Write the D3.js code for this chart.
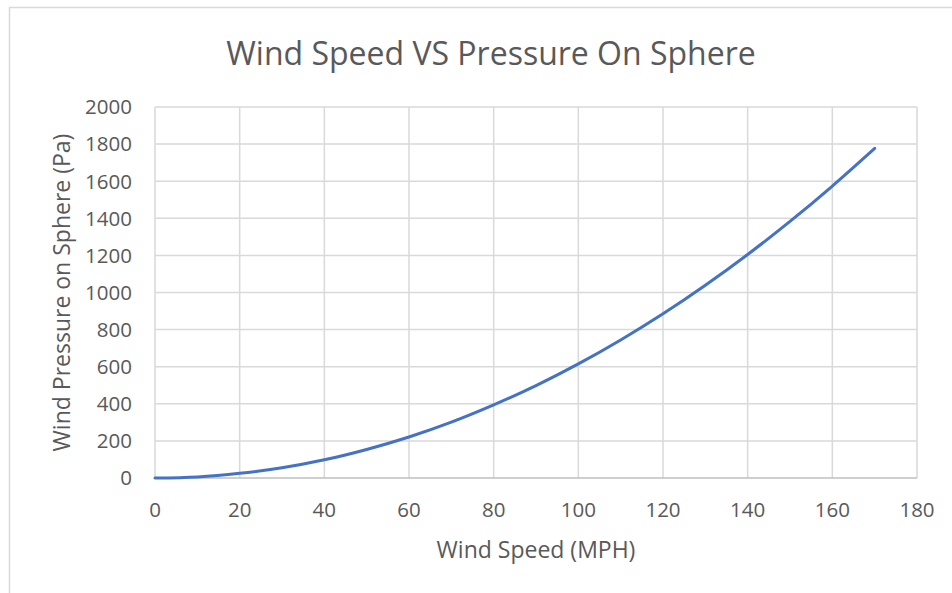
<!DOCTYPE html>
<html>
<head>
<meta charset="utf-8">
<script src="https://cdn.jsdelivr.net/npm/d3@7"></script>
<style>
  body { margin: 0; background: #fff; }
  text { font-family: "Open Sans", sans-serif; }
</style>
</head>
<body>
<svg id="chart" width="952" height="593"></svg>
<script>
// values (Pa at each wind speed in mph)
var speeds = [0, 10, 20, 30, 40, 50, 60, 70, 80, 90, 100, 110, 120, 130, 140, 150, 160, 170]
var pressures = [0, 6, 25, 55, 98, 154, 221, 301, 394, 498, 615, 744, 885, 1039, 1205, 1383, 1574, 1777]
var xTicks = [0, 20, 40, 60, 80, 100, 120, 140, 160, 180]
var yTicks = [0, 200, 400, 600, 800, 1000, 1200, 1400, 1600, 1800, 2000]

var svg = d3.select("#chart")

// chart frame
svg.append("rect")
  .attr("x", 9.5).attr("y", 7.5)
  .attr("width", 960).attr("height", 600)
  .attr("fill", "#fff")
  .attr("stroke", "#d9d9d9")
  .attr("stroke-width", 1.5)

// plot area edges
var plotL = 155, plotR = 917, plotT = 107, plotB = 478

var x = d3.scaleLinear().domain([0, 180]).range([plotL, plotR])
var y = d3.scaleLinear().domain([0, 2000]).range([plotB, plotT])

// gridlines
svg.append("g").selectAll("line")
  .data(xTicks)
  .enter().append("line")
  .attr("x1", function(d) { return x(d) }).attr("x2", function(d) { return x(d) })
  .attr("y1", plotT).attr("y2", plotB)
  .attr("stroke", "#d9d9d9")
  .attr("stroke-width", 1.5)

svg.append("g").selectAll("line")
  .data(yTicks)
  .enter().append("line")
  .attr("x1", plotL).attr("x2", plotR)
  .attr("y1", function(d) { return y(d) }).attr("y2", function(d) { return y(d) })
  .attr("stroke", function(d) { return d === 0 ? "#bfbfbf" : "#d9d9d9" })
  .attr("stroke-width", 1.5)

// tick labels
svg.append("g").selectAll("text")
  .data(yTicks)
  .enter().append("text")
  .attr("x", 132)
  .attr("y", function(d) { return y(d) })
  .attr("dy", "0.36em")
  .attr("text-anchor", "end")
  .attr("font-size", 20.5)
  .attr("fill", "#595959")
  .text(function(d) { return d })

svg.append("g").selectAll("text")
  .data(xTicks)
  .enter().append("text")
  .attr("x", function(d) { return x(d) })
  .attr("y", 510)
  .attr("dy", "0.36em")
  .attr("text-anchor", "middle")
  .attr("font-size", 20.5)
  .attr("fill", "#595959")
  .text(function(d) { return d })

// the curve
var line = d3.line()
  .x(function(d, i) { return x(speeds[i]) })
  .y(function(d) { return y(d) })
  .curve(d3.curveMonotoneX)

svg.append("path")
  .datum(pressures)
  .attr("d", line)
  .attr("fill", "none")
  .attr("stroke", "#4472c4")
  .attr("stroke-width", 3)
  .attr("stroke-linecap", "round")

// titles
svg.append("text")
  .attr("x", 491).attr("y", 53)
  .attr("dy", "0.36em")
  .attr("text-anchor", "middle")
  .attr("font-size", 32)
  .attr("fill", "#595959")
  .text("Wind Speed VS Pressure On Sphere")

svg.append("text")
  .attr("x", (plotL + plotR) / 2).attr("y", 550)
  .attr("dy", "0.36em")
  .attr("text-anchor", "middle")
  .attr("font-size", 23)
  .attr("fill", "#595959")
  .text("Wind Speed (MPH)")

svg.append("text")
  .attr("transform", "translate(62," + (plotT + plotB) / 2 + ") rotate(-90)")
  .attr("dy", "0.36em")
  .attr("text-anchor", "middle")
  .attr("font-size", 23)
  .attr("fill", "#595959")
  .text("Wind Pressure on Sphere (Pa)")
</script>
</body>
</html>
